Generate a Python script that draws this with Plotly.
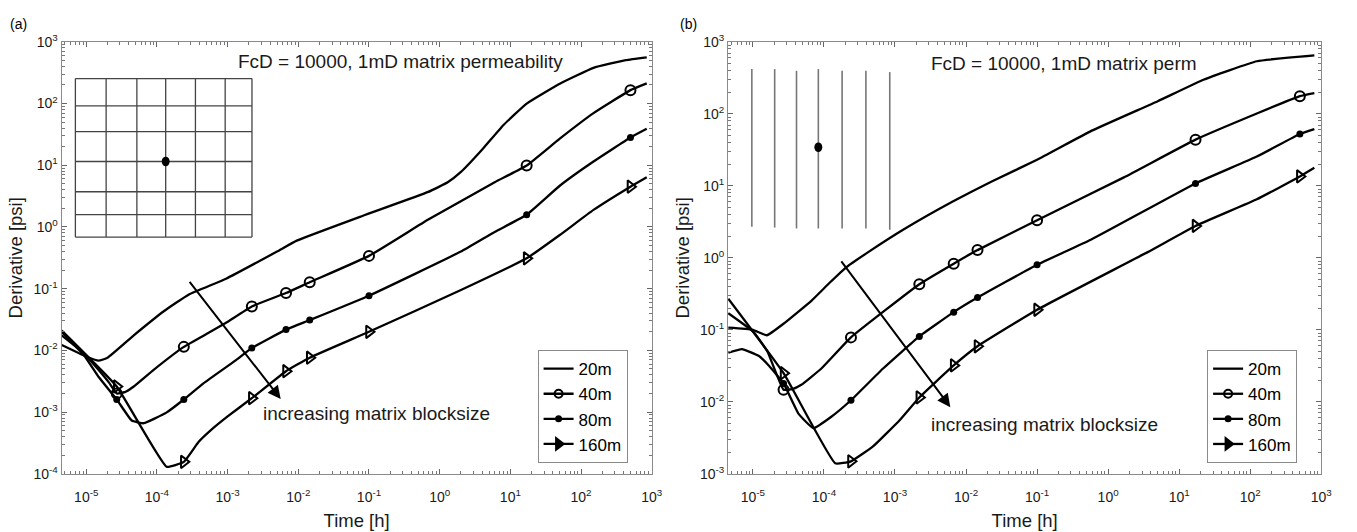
import numpy as np
import plotly.graph_objects as go

# ---------------- data ----------------
# sample times carrying symbols on the 40m / 80m / 160m curves [h]
marker_t = [2.7e-5, 2.4e-4, 2.2e-3, 6.7e-3, 1.45e-2, 0.1, 17, 500]

# (a) 2D grid of matrix blocks
a_t20 = [4.5e-6, 9.4e-6, 1.5e-5, 2.0e-5, 4.7e-5, 1.25e-4, 2.8e-4, 9.5e-4, 5.0e-3, 9.5e-3,
         0.082, 0.69, 1.3, 2.0, 4.0, 8.0, 17, 50, 150, 430, 850]
a_d20 = [0.0122, 0.0082, 0.0068, 0.0076, 0.0175, 0.043, 0.08, 0.145, 0.40, 0.60,
         1.52, 3.7, 5.3, 7.8, 18, 45, 100, 210, 380, 505, 560]

a_t40 = [4.5e-6, 9.4e-6, 1.5e-5, 2.1e-5, 2.7e-5, 3.5e-5, 4.7e-5, 8.9e-5, 2.4e-4, 5.7e-4,
         9.5e-4, 2.2e-3, 6.7e-3, 1.45e-2, 0.1, 0.69, 6.0, 17, 50, 150, 500, 850]
a_d40 = [0.0175, 0.0088, 0.0048, 0.0030, 0.0020, 0.0021, 0.0026, 0.0048, 0.0114, 0.020,
         0.028, 0.0515, 0.085, 0.127, 0.34, 1.32, 5.3, 9.9, 27, 70, 165, 212]

a_t80 = [4.5e-6, 9.4e-6, 1.5e-5, 2.7e-5, 4.4e-5, 6.5e-5, 1.36e-4, 2.4e-4, 4.5e-4, 1.3e-3,
         2.2e-3, 6.7e-3, 1.45e-2, 0.1, 2.0, 6.0, 17, 50, 150, 500, 850]
a_d80 = [0.020, 0.0082, 0.0037, 0.0016, 0.00073, 0.00066, 0.00098, 0.0016, 0.0029, 0.0069,
         0.0109, 0.0217, 0.031, 0.077, 0.40, 0.83, 1.58, 4.66, 11.5, 28.2, 39]

a_t160 = [4.5e-6, 2.7e-5, 1.37e-4, 2.4e-4, 3.9e-4, 5.8e-4, 1.0e-3, 2.2e-3, 6.7e-3, 1.45e-2,
          0.1, 2.0, 17, 50, 150, 500, 850]
a_d160 = [0.021, 0.0026, 0.00013, 0.000156, 0.00033, 0.00051, 0.00085, 0.00168, 0.0046, 0.0076,
          0.020, 0.095, 0.31, 0.74, 1.89, 4.5, 6.4]

# (b) parallel vertical fractures
b_t20 = [4.5e-6, 1.0e-5, 1.57e-5, 2.8e-5, 6.7e-5, 1.2e-4, 2.1e-4, 4.2e-4, 1.3e-3, 6.4e-3,
         0.023, 0.1, 0.58, 5.0, 22, 124, 800]
b_d20 = [0.107, 0.10, 0.084, 0.125, 0.255, 0.45, 0.75, 1.2, 2.45, 6.0,
         11.5, 23, 58, 150, 298, 538, 650]

b_t40 = [4.5e-6, 1.0e-5, 1.6e-5, 2.7e-5, 3.6e-5, 4.8e-5, 9.2e-5, 2.4e-4, 2.2e-3, 6.7e-3,
         1.45e-2, 0.1, 1.67, 17, 124, 500, 800]
b_d40 = [0.17, 0.095, 0.05, 0.0147, 0.015, 0.0172, 0.029, 0.0785, 0.43, 0.83,
         1.28, 3.33, 13.1, 43.8, 101, 176, 194]

b_t80 = [4.5e-6, 7.0e-6, 1.2e-5, 1.67e-5, 2.7e-5, 4.4e-5, 7.1e-5, 1.27e-4, 2.4e-4, 6.8e-4,
         2.2e-3, 6.7e-3, 1.45e-2, 0.1, 0.58, 17, 124, 500, 800]
b_d80 = [0.048, 0.054, 0.0435, 0.032, 0.018, 0.0068, 0.0043, 0.0062, 0.0105, 0.029,
         0.081, 0.176, 0.28, 0.80, 1.8, 10.8, 25.5, 52.6, 61.5]

b_t160 = [4.5e-6, 2.7e-5, 1.44e-4, 2.4e-4, 4.9e-4, 1.17e-3, 2.2e-3, 6.7e-3, 1.45e-2, 0.1,
          3.6, 17, 124, 500, 800]
b_d160 = [0.27, 0.025, 0.0014, 0.00149, 0.0024, 0.0056, 0.0115, 0.032, 0.059, 0.19,
          1.2, 2.77, 6.5, 13.5, 17.8]

series_names = ["20m", "40m", "80m", "160m"]
x_exponents = [-5, -4, -3, -2, -1, 0, 1, 2, 3]
ya_exponents = [-4, -3, -2, -1, 0, 1, 2, 3]
yb_exponents = [-3, -2, -1, 0, 1, 2, 3]

# ---------------- styling ----------------
FONT = "Liberation Sans, Arial, Helvetica, sans-serif"
BLACK = "#000000"
TEXT = "#1a1a1a"
symbols = {
    "20m": None,
    "40m": dict(symbol="circle-open", size=10, line=dict(width=2, color=BLACK), color=BLACK),
    "80m": dict(symbol="circle", size=7, color=BLACK, line=dict(width=0)),
    "160m": dict(symbol="triangle-right-open", size=11, line=dict(width=2, color=BLACK), color=BLACK),
}
legend_symbols = {
    "20m": None,
    "40m": dict(symbol="circle-open", size=8, line=dict(width=2, color=BLACK), color=BLACK),
    "80m": dict(symbol="circle", size=7, color=BLACK, line=dict(width=0)),
    "160m": dict(symbol="triangle-right", size=11, line=dict(width=1.5, color=BLACK), color=BLACK),
}

fig = go.Figure()


def add_panel(curves, xa, ya, legend_id):
    for name, (t, d) in zip(series_names, curves):
        fig.add_trace(go.Scatter(x=t, y=d, mode="lines", xaxis=xa, yaxis=ya,
                                 line=dict(color=BLACK, width=2.3, shape="spline", smoothing=0.35),
                                 showlegend=False, hoverinfo="skip"))
        sym = symbols[name]
        if sym is not None:
            sel = [i for i, v in enumerate(t) if np.any(np.isclose(v, marker_t, rtol=1e-6))]
            fig.add_trace(go.Scatter(x=[t[i] for i in sel], y=[d[i] for i in sel],
                                     mode="markers", xaxis=xa, yaxis=ya, marker=sym,
                                     showlegend=False, hoverinfo="skip"))
        # legend entry
        lsym = legend_symbols[name]
        fig.add_trace(go.Scatter(x=[None], y=[None], xaxis=xa, yaxis=ya, name=name,
                                 mode="lines" if lsym is None else "lines+markers",
                                 line=dict(color=BLACK, width=2.3),
                                 marker=lsym if lsym is not None else None,
                                 legend=legend_id, showlegend=True))


add_panel([(a_t20, a_d20), (a_t40, a_d40), (a_t80, a_d80), (a_t160, a_d160)], "x", "y", "legend")
add_panel([(b_t20, b_d20), (b_t40, b_d40), (b_t80, b_d80), (b_t160, b_d160)], "x2", "y2", "legend2")


def pow_labels(exps):
    return ["10<sup>%d</sup>" % e for e in exps]


minor_vals = [k * 10.0 ** e for e in range(-6, 4) for k in range(2, 10)]


def log_axis(exps, rng, title, domain, anchor, standoff, label_gap):
    return dict(
        type="log", range=rng, domain=domain, anchor=anchor,
        showline=True, linecolor="#8a8a8a", linewidth=1, mirror="allticks",
        ticks="inside", ticklen=5, tickwidth=1, tickcolor="#666666",
        showgrid=False, zeroline=False,
        tickmode="array", tickvals=[10.0 ** e for e in exps], ticktext=pow_labels(exps),
        tickfont=dict(family=FONT, size=14, color=TEXT),
        ticklabelstandoff=label_gap,
        minor=dict(ticks="inside", ticklen=3, tickwidth=1, tickcolor="#777777",
                   tickmode="array", tickvals=minor_vals, showgrid=False),
        title=dict(text=title, font=dict(family=FONT, size=18.5, color=TEXT), standoff=standoff),
    )


xr = [-5.35, 3]
ydom = [0.0977, 0.938]
fig.update_layout(
    xaxis=log_axis(x_exponents, xr, "Time [h]", [0.0457, 0.4842], "y", 10, 10),
    yaxis=log_axis(ya_exponents, [-4, 3], "Derivative [psi]", ydom, "x", 5, 0),
    xaxis2=log_axis(x_exponents, xr, "Time [h]", [0.5409, 0.9816], "y2", 10, 10),
    yaxis2=log_axis(yb_exponents, [-3, 3], "Derivative [psi]", ydom, "x2", 5, 0),
)

legend_style = dict(
    xanchor="left", yanchor="top", bgcolor="white",
    bordercolor="#8a8a8a", borderwidth=1,
    font=dict(family=FONT, size=17, color=BLACK),
    itemwidth=30, tracegroupgap=0,
)
fig.update_layout(
    legend=dict(x=0.3994, y=0.3383, **legend_style),
    legend2=dict(x=0.8968, y=0.3383, **legend_style),
)

annotations = [
    dict(text="(a)", x=0.006, y=0.972, xref="paper", yref="paper", xanchor="left",
         yanchor="middle", showarrow=False, font=dict(family=FONT, size=14, color=BLACK)),
    dict(text="(b)", x=0.5035, y=0.972, xref="paper", yref="paper", xanchor="left",
         yanchor="middle", showarrow=False, font=dict(family=FONT, size=14, color=BLACK)),
    dict(text="FcD = 10000, 1mD matrix permeability", x=0.296, y=0.955,
         xref="x domain", yref="y domain", xanchor="left", yanchor="middle", showarrow=False,
         font=dict(family=FONT, size=19, color=TEXT)),
    dict(text="FcD = 10000, 1mD matrix perm", x=0.339, y=0.951,
         xref="x2 domain", yref="y2 domain", xanchor="left", yanchor="middle", showarrow=False,
         font=dict(family=FONT, size=19, color=TEXT)),
    dict(text="increasing matrix blocksize", x=0.338, y=0.139,
         xref="x domain", yref="y domain", xanchor="left", yanchor="middle", showarrow=False,
         font=dict(family=FONT, size=19, color=TEXT)),
    dict(text="increasing matrix blocksize", x=0.339, y=0.114,
         xref="x2 domain", yref="y2 domain", xanchor="left", yanchor="middle", showarrow=False,
         font=dict(family=FONT, size=19, color=TEXT)),
    # trend arrows (log10 coordinates)
    dict(text="", x=-2.249, y=-2.79, ax=-3.554, ay=-0.865, xref="x", yref="y",
         axref="x", ayref="y", showarrow=True, arrowhead=2, arrowsize=1.3,
         arrowwidth=2, arrowcolor=BLACK),
    dict(text="", x=-2.221, y=-2.074, ax=-3.771, ay=-0.028, xref="x2", yref="y2",
         axref="x2", ayref="y2", showarrow=True, arrowhead=2, arrowsize=1.3,
         arrowwidth=2, arrowcolor=BLACK),
]
fig.update_layout(annotations=annotations)

# ---- schematic insets ----
shapes = []
# (a) block grid
grid_x = [0.0235, 0.0756, 0.1277, 0.1765, 0.2269, 0.2773, 0.3227]
grid_y = [0.915, 0.852, 0.792, 0.723, 0.653, 0.600, 0.548]
for gx in grid_x:
    shapes.append(dict(type="line", xref="x domain", yref="y domain", x0=gx, x1=gx,
                       y0=grid_y[-1], y1=grid_y[0], line=dict(color="#444444", width=1.3)))
for gy in grid_y:
    shapes.append(dict(type="line", xref="x domain", yref="y domain", x0=grid_x[0], x1=grid_x[-1],
                       y0=gy, y1=gy, line=dict(color="#444444", width=1.3)))
shapes.append(dict(type="circle", xref="x domain", yref="y domain",
                   x0=0.1765 - 0.0067, x1=0.1765 + 0.0067, y0=0.723 - 0.0112, y1=0.723 + 0.0112,
                   fillcolor=BLACK, line=dict(color=BLACK, width=0)))
# (b) parallel fractures
frac_x = [0.0401, 0.0786, 0.1154, 0.1522, 0.1923, 0.2324, 0.2726]
frac_top = [0.937, 0.937, 0.933, 0.937, 0.933, 0.933, 0.930]
frac_bot = [0.572, 0.570, 0.568, 0.568, 0.568, 0.568, 0.565]
for fx, ft, fb in zip(frac_x, frac_top, frac_bot):
    shapes.append(dict(type="line", xref="x2 domain", yref="y2 domain", x0=fx, x1=fx,
                       y0=fb, y1=ft, line=dict(color="#777777", width=1.6)))
shapes.append(dict(type="circle", xref="x2 domain", yref="y2 domain",
                   x0=0.1522 - 0.0067, x1=0.1522 + 0.0067, y0=0.756 - 0.0112, y1=0.756 + 0.0112,
                   fillcolor=BLACK, line=dict(color=BLACK, width=0)))
fig.update_layout(shapes=shapes)

fig.update_layout(
    width=1357, height=532, autosize=False,
    margin=dict(l=0, r=0, t=0, b=0),
    paper_bgcolor="white", plot_bgcolor="white",
    font=dict(family=FONT, color=BLACK),
)

fig.write_html("out.html")
